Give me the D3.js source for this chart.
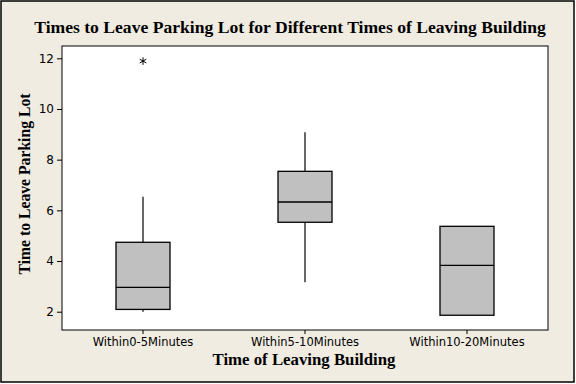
<!DOCTYPE html>
<html>
<head>
<meta charset="utf-8">
<script src="https://cdn.jsdelivr.net/npm/d3@7"></script>
<style>
  body { margin: 0; padding: 0; }
</style>
</head>
<body>
<div id="graph"></div>
<script>
// box plot data
let categories = ["Within0-5Minutes", "Within5-10Minutes", "Within10-20Minutes"];
let q1 = [2.09, 5.53, 1.86];
let medians = [2.96, 6.33, 3.83];
let q3 = [4.74, 7.54, 5.37];
let whiskerLow = [2.0, 3.16, 1.86];
let whiskerHigh = [6.54, 9.08, 5.37];
let outliers = [[11.89], [], []];
let yTicks = [2, 4, 6, 8, 10, 12];

let width = 576, height = 384;
let margin = {top: 46, right: 28, bottom: 54, left: 62};
let plot_w = width - margin.left - margin.right;
let plot_h = height - margin.top - margin.bottom;

let svg = d3.select("#graph")
    .append("svg")
    .attr("width", width)
    .attr("height", height);

// background + outer frame
svg.append("rect")
    .attr("x", 1).attr("y", 1)
    .attr("width", width - 3).attr("height", height - 3)
    .attr("fill", "#f0ece2")
    .attr("stroke", "#000")
    .attr("stroke-width", 1.5);

let g = svg.append("g")
    .attr("transform", `translate(${margin.left},${margin.top})`);

g.append("rect")
    .attr("width", plot_w)
    .attr("height", plot_h)
    .attr("fill", "#fff")
    .attr("stroke", "#000")
    .attr("stroke-width", 1);

let x = d3.scaleBand()
    .domain(categories)
    .range([0, plot_w])
    .padding(0);

let y = d3.scaleLinear()
    .domain([1.278, 12.486])
    .range([plot_h, 0]);

// axes
let yAxis = g.append("g")
    .call(d3.axisLeft(y).tickValues(yTicks).tickSize(5).tickPadding(3));
let xAxis = g.append("g")
    .attr("transform", `translate(0,${plot_h})`)
    .call(d3.axisBottom(x).tickSize(4).tickPadding(4));
[yAxis, xAxis].forEach(function(a) {
    a.select(".domain").remove();
    a.selectAll("line").attr("stroke", "#000");
    a.selectAll("text")
        .attr("fill", "#000")
        .style("font-family", "DejaVu Sans")
        .style("font-size", "11.5px");
});
yAxis.selectAll("text").style("font-size", "12px");

let data = categories.map(function(c, i) {
    return {cat: c, q1: q1[i], med: medians[i], q3: q3[i],
            lo: whiskerLow[i], hi: whiskerHigh[i], out: outliers[i]};
});

let boxW = x.bandwidth() / 3;
let boxes = g.selectAll(".box").data(data).enter()
    .append("g")
    .attr("class", "box")
    .attr("transform", d => `translate(${x(d.cat) + x.bandwidth() / 2},0)`);

// whiskers
boxes.append("line")
    .attr("y1", d => y(d.q3)).attr("y2", d => y(d.hi))
    .attr("stroke", "#000").attr("stroke-width", 1.2);
boxes.append("line")
    .attr("y1", d => y(d.q1)).attr("y2", d => y(d.lo))
    .attr("stroke", "#000").attr("stroke-width", 1.2);

boxes.append("rect")
    .attr("x", -boxW / 2)
    .attr("y", d => y(d.q3))
    .attr("width", boxW)
    .attr("height", d => y(d.q1) - y(d.q3))
    .attr("fill", "#c0c0c0")
    .attr("stroke", "#000")
    .attr("stroke-width", 1.3);

boxes.append("line")
    .attr("x1", -boxW / 2).attr("x2", boxW / 2)
    .attr("y1", d => y(d.med)).attr("y2", d => y(d.med))
    .attr("stroke", "#000").attr("stroke-width", 1.3);

boxes.selectAll(".outlier").data(d => d.out).enter()
    .append("path")
    .attr("class", "outlier")
    .attr("transform", v => `translate(0,${y(v)})`)
    .attr("d", d3.symbol(d3.symbolAsterisk, 40))
    .attr("fill", "none")
    .attr("stroke", "#000")
    .attr("stroke-width", 1);

// title and axis labels
svg.append("text")
    .attr("x", 290).attr("y", 33)
    .style("text-anchor", "middle")
    .style("font-family", "Liberation Serif")
    .style("font-weight", "bold")
    .style("font-size", "17.6px")
    .text("Times to Leave Parking Lot for Different Times of Leaving Building");

svg.append("text")
    .attr("transform", `translate(${margin.left + plot_w / 2 - 1},365)`)
    .style("text-anchor", "middle")
    .style("font-family", "Liberation Serif")
    .style("font-weight", "bold")
    .style("font-size", "16.8px")
    .text("Time of Leaving Building");

svg.append("text")
    .attr("transform", "translate(30,184) rotate(-90)")
    .style("text-anchor", "middle")
    .style("font-family", "Liberation Serif")
    .style("font-weight", "bold")
    .style("font-size", "15.7px")
    .text("Time to Leave Parking Lot");
</script>
</body>
</html>
